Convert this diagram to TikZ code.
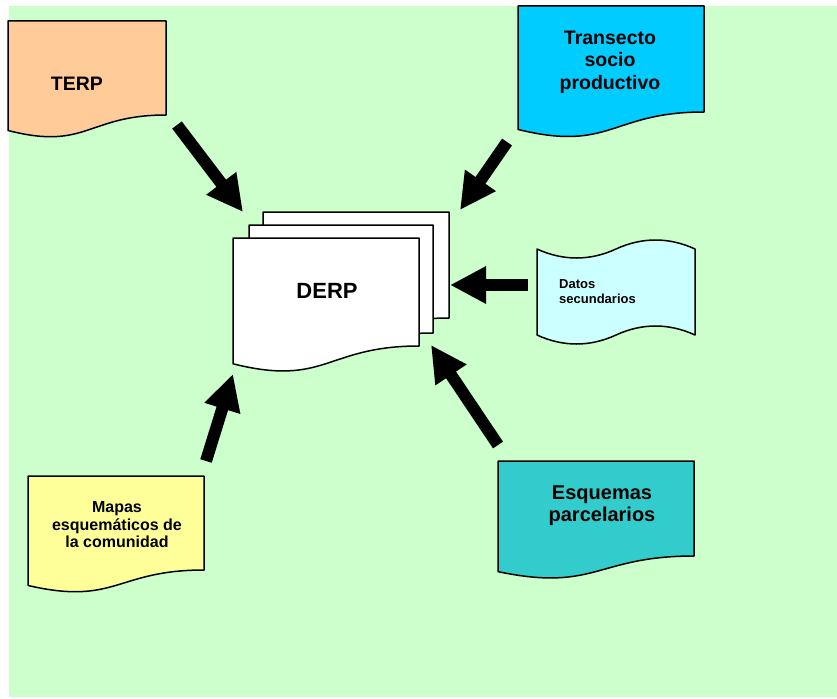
\documentclass[tikz,border=0pt]{standalone}
\usepackage{fontspec}
\setmainfont{Liberation Sans}
\usetikzlibrary{arrows.meta,calc}
\definecolor{bggreen}{HTML}{CCFFCC}
\definecolor{terpfill}{HTML}{FFCC99}
\definecolor{transfill}{HTML}{00CCFF}
\definecolor{datosfill}{HTML}{CCFFFF}
\definecolor{mapasfill}{HTML}{FFFF99}
\definecolor{esqfill}{HTML}{33CCCC}
\newcommand\docpath[2]{\path[docline,fill=#2] (#1.north west) -- (#1.north east) -- (#1.south east) .. controls (#1.south) and ($(#1.north)!1.381!(#1.south)$) .. ($(#1.north west)!1.1646!(#1.south west)$) -- cycle;}
\tikzset{
  docline/.style={draw=black,line width=1.5pt,line join=round},
  docbox/.style={inner sep=0pt,outer sep=0pt,anchor=north west},
  lbl/.style={inner sep=0pt,font=\bfseries,align=center},
  bigarrow/.style={line width=12pt,line cap=butt,-{Triangle[length=36pt,width=35pt]}}
}
\begin{document}
\begin{tikzpicture}[x=1pt,y=-1pt]
\useasboundingbox (0,0) rectangle (837,698);
\fill[white] (0,0) rectangle (837,698);
\fill[bggreen] (9,6) rectangle (837,697);

% TERP
\node[docbox,minimum width=158pt,minimum height=94pt] (terp) at (8,21) {};
\docpath{terp}{terpfill}
\node[lbl,font=\bfseries\fontsize{19.5}{22.5}\selectfont] (terpt) at (77,84) {TERP};

% Transecto
\node[docbox,minimum width=186pt,minimum height=106pt] (trans) at (518,6) {};
\docpath{trans}{transfill}
\node[lbl,font=\bfseries\fontsize{19.5}{22.5}\selectfont] (transt) at (610,62) {Transecto\\socio\\productivo};

% DERP stack
\node[docbox,minimum width=186pt,minimum height=106pt] (derp3) at (263,212) {};
\docpath{derp3}{white}
\node[docbox,minimum width=184pt,minimum height=108pt] (derp2) at (249,225) {};
\docpath{derp2}{white}
\node[docbox,minimum width=186pt,minimum height=108pt] (derp) at (233,238) {};
\docpath{derp}{white}
\node[lbl,font=\bfseries\fontsize{22}{25}\selectfont] (derpt) at (327,291) {DERP};

% Datos secundarios (punched tape)
\node[inner sep=0pt,minimum width=158pt,minimum height=86pt] (datos) at (616,292) {};
\path[docline,fill=datosfill] (537,249) .. controls (563,261) and (590,261) .. (616,249)
  .. controls (642,237) and (669,237) .. (695,249) -- (695,335)
  .. controls (669,323) and (642,323) .. (616,335)
  .. controls (590,347) and (563,347) .. (537,335) -- cycle;
\node[lbl,align=left,anchor=west,font=\bfseries\fontsize{13}{15}\selectfont] (datost) at (559,292) {Datos\\secundarios};

% Mapas
\node[docbox,minimum width=176pt,minimum height=94pt] (mapas) at (28,476) {};
\docpath{mapas}{mapasfill}
\node[lbl,font=\bfseries\fontsize{16}{17.5}\selectfont] (mapast) at (117,525) {Mapas\\esquemáticos de\\la comunidad};

% Esquemas
\node[docbox,minimum width=196pt,minimum height=95pt] (esq) at (498,461) {};
\docpath{esq}{esqfill}
\node[lbl,font=\bfseries\fontsize{20}{22}\selectfont] (esqt) at (602,506) {Esquemas\\parcelarios};

% arrow end points
\coordinate (a1s) at (177,125); \coordinate (a1e) at (243,212);
\coordinate (a2s) at (507,142); \coordinate (a2e) at (460,210);
\coordinate (a3s) at (528,285); \coordinate (a3e) at (450,285);
\coordinate (a4s) at (206,461); \coordinate (a4e) at (233,374);
\coordinate (a5s) at (498,445); \coordinate (a5e) at (431,345);
\draw[bigarrow] (a1s) -- (a1e);
\draw[bigarrow] (a2s) -- (a2e);
\draw[bigarrow] (a3s) -- (a3e);
\draw[bigarrow] (a4s) -- (a4e);
\draw[bigarrow] (a5s) -- (a5e);
\end{tikzpicture}
\end{document}
